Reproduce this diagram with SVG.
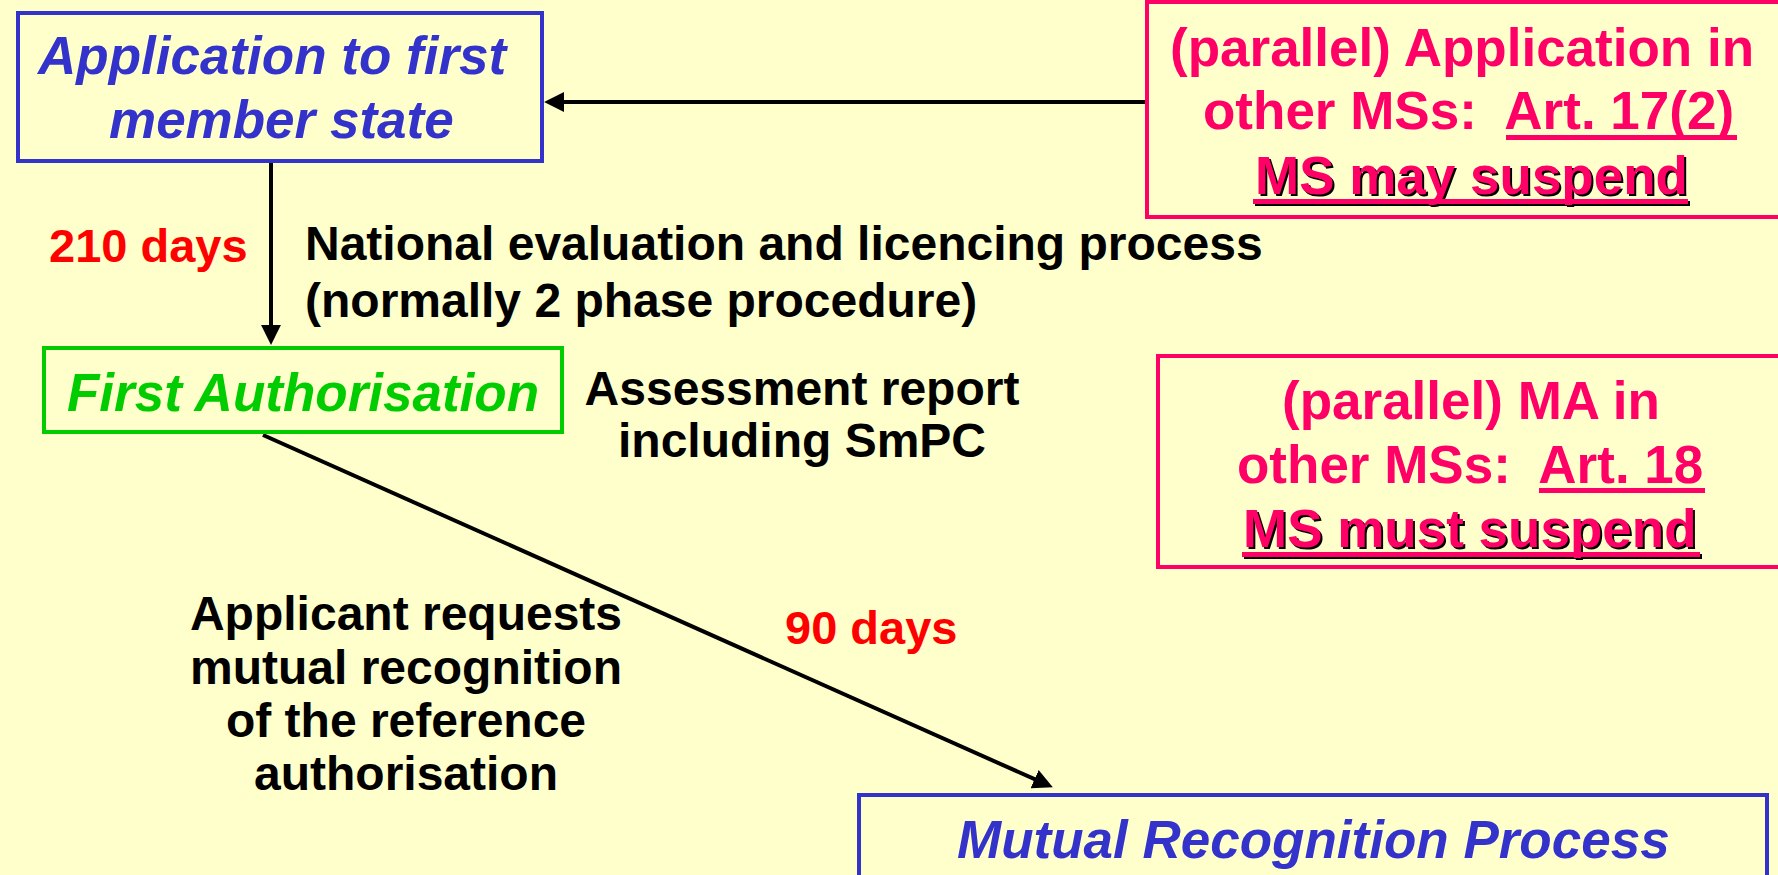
<svg xmlns="http://www.w3.org/2000/svg" width="1778" height="875" viewBox="0 0 1778 875">
<style>
.bg{fill:#FFFFCC}
.t{font-family:"Liberation Sans",Arial,sans-serif;font-weight:bold}
.bi{font-family:"Liberation Sans",Arial,sans-serif;font-weight:bold;font-style:italic;font-size:53px}
.blue{fill:#3333CC}
.green{fill:#00CC00}
.pink{fill:#FF0066}
.red{fill:#FF0000;font-size:47px}
.blk{fill:#000000;font-size:48px}
.p53{font-size:53px}
.box{fill:none;stroke-width:4}
.conn{stroke:#000;stroke-width:4;fill:none}
</style>
<defs>
<marker id="ah" markerUnits="userSpaceOnUse" markerWidth="20" markerHeight="20" viewBox="0 0 18 18" refX="10" refY="9" orient="auto">
<path d="M0,0 L18,9 L0,18 z" fill="#000"/>
</marker>
</defs>
<rect class="bg" x="0" y="0" width="1778" height="875"/>

<g id="connectors">
<line class="conn" x1="1145" y1="102" x2="553" y2="102" marker-end="url(#ah)"/>
<line class="conn" x1="271" y1="163" x2="271" y2="336" marker-end="url(#ah)"/>
<line class="conn" x1="263" y1="435" x2="1044.7" y2="783.7" marker-end="url(#ah)"/>
</g>

<g id="node-application">
<rect class="box" x="18" y="13" width="524" height="148" stroke="#3333CC"/>
<text class="bi blue" x="38" y="74">Application to first</text>
<text class="bi blue" x="109" y="138">member state</text>
</g>

<g id="node-first-authorisation">
<rect class="box" x="44" y="348" width="518" height="84" stroke="#00CC00"/>
<text class="bi green" x="67" y="411">First Authorisation</text>
</g>

<g id="node-mutual-recognition">
<rect class="box" x="859" y="795" width="908" height="120" stroke="#3333CC"/>
<text class="bi blue" x="957" y="858">Mutual Recognition Process</text>
</g>

<g id="node-parallel-application">
<rect class="box" x="1147" y="2" width="645" height="215" stroke="#FF0066"/>
<text class="t pink p53" x="1170" y="66">(parallel) Application in</text>
<text class="t pink p53" x="1203" y="129" xml:space="preserve">other MSs:  Art. 17(2)</text>
<rect x="1506" y="135" width="231" height="5" fill="#FF0066"/>
<text class="t p53" x="1257" y="196" fill="#000">MS may suspend</text>
<rect x="1255" y="201" width="435" height="5" fill="#000"/>
<text class="t pink p53" x="1255" y="194">MS may suspend</text>
<rect x="1253" y="199" width="435" height="5" fill="#FF0066"/>
</g>

<g id="node-parallel-ma">
<rect class="box" x="1158" y="356" width="634" height="211" stroke="#FF0066"/>
<text class="t pink p53" x="1282" y="419">(parallel) MA in</text>
<text class="t pink p53" x="1237" y="483" xml:space="preserve">other MSs:  Art. 18</text>
<rect x="1539" y="488" width="166" height="5" fill="#FF0066"/>
<text class="t p53" x="1245" y="549" fill="#000">MS must suspend</text>
<rect x="1244" y="554" width="458" height="5" fill="#000"/>
<text class="t pink p53" x="1243" y="547">MS must suspend</text>
<rect x="1242" y="552" width="458" height="5" fill="#FF0066"/>
</g>

<g id="labels">
<text class="t red" x="49" y="262">210 days</text>
<text class="t blk" x="305" y="260">National evaluation and licencing process</text>
<text class="t blk" x="305" y="317">(normally 2 phase procedure)</text>
<text class="t blk" x="802" y="405" text-anchor="middle">Assessment report</text>
<text class="t blk" x="802" y="457" text-anchor="middle">including SmPC</text>
<text class="t red" x="785" y="644">90 days</text>
<text class="t blk" x="406" y="630" text-anchor="middle">Applicant requests</text>
<text class="t blk" x="406" y="684" text-anchor="middle">mutual recognition</text>
<text class="t blk" x="406" y="737" text-anchor="middle">of the reference</text>
<text class="t blk" x="406" y="790" text-anchor="middle">authorisation</text>
</g>
</svg>
